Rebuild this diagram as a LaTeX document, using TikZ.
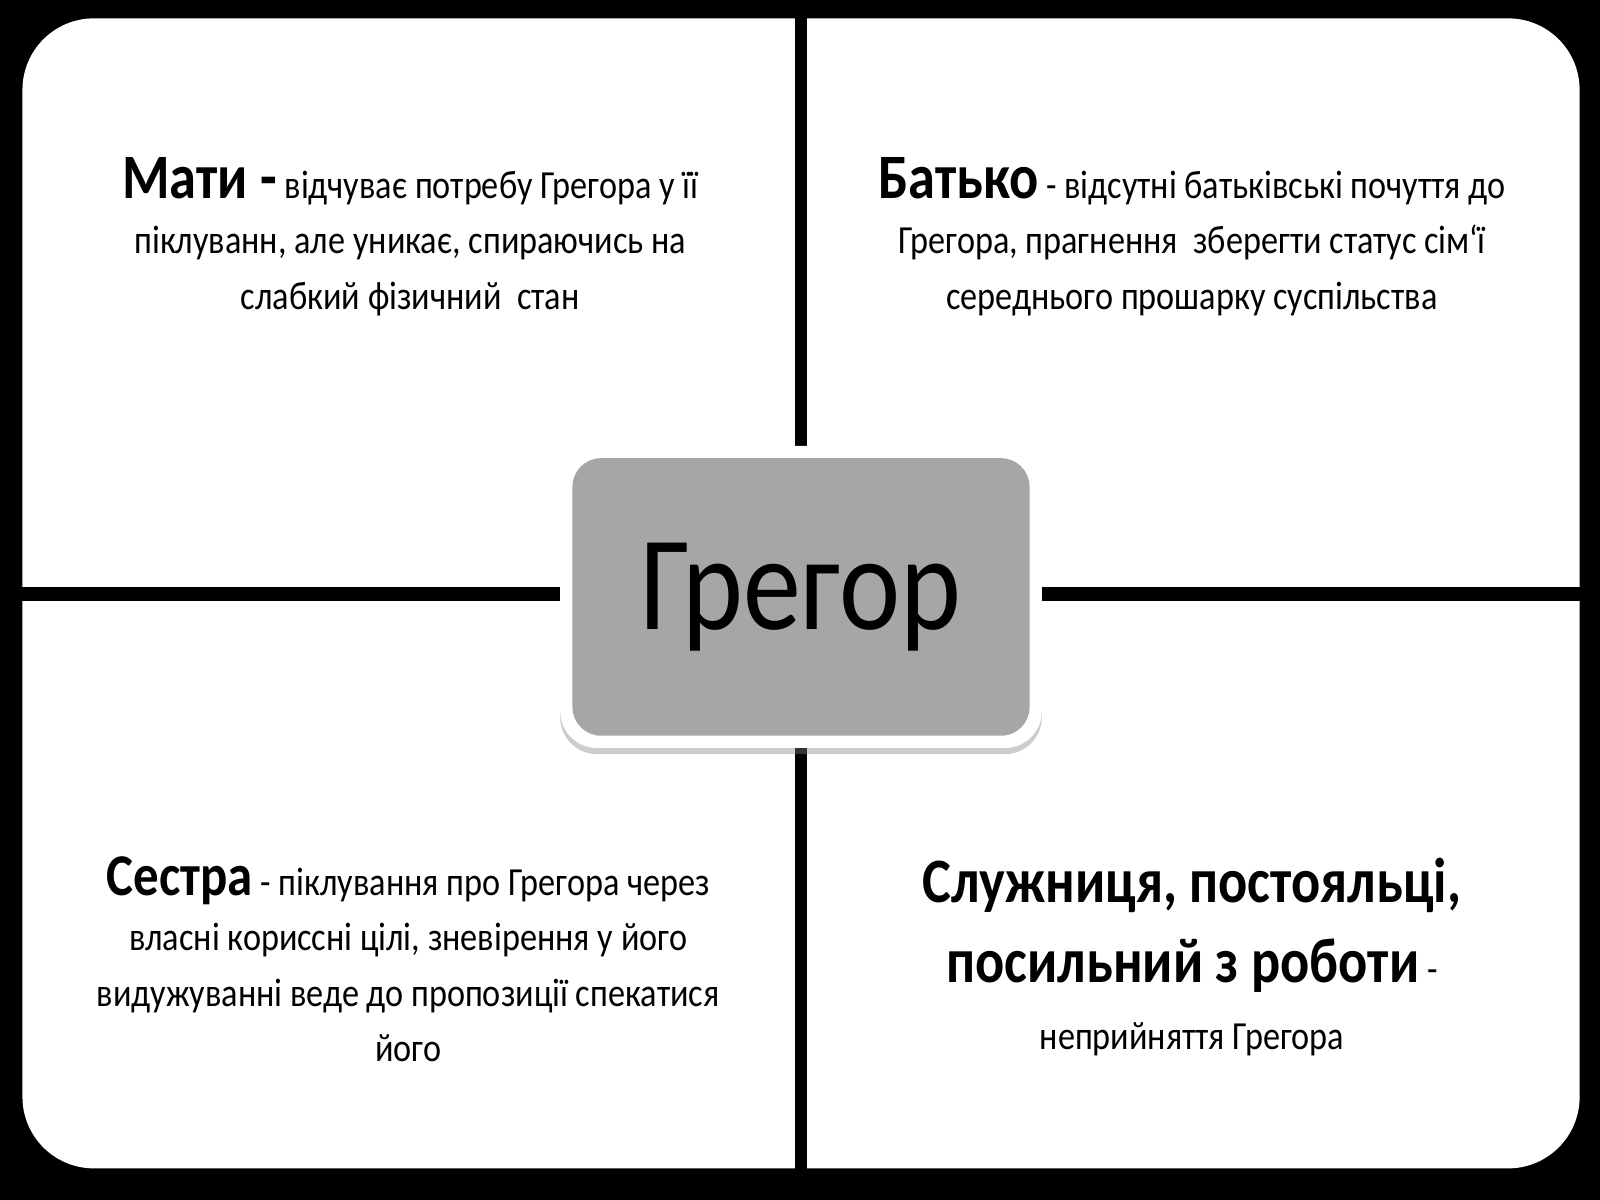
\documentclass[tikz,border=0pt]{standalone}
\usepackage{fontspec}
\setmainfont{Carlito}[FakeStretch=0.86]
\usetikzlibrary{shadows}
\begin{document}
\begin{tikzpicture}[x=0.5pt,y=-0.5pt,
  txt/.style={align=center,font=\fontsize{19.5}{27}\selectfont,inner sep=0pt}]
\useasboundingbox (0,0) rectangle (1568,1176);
\fill[black] (0,0) rectangle (1568,1176);
\fill[white,rounded corners=35pt] (22,18) rectangle (1548,1145);
\fill[black] (779,0) rectangle (791,1176);
\fill[black] (0,575) rectangle (1568,589);
\node[txt] (m) at (402,232) {{\fontsize{31}{27}\selectfont\bfseries Мати -} відчуває потребу Грегора у її\\піклуванн, але уникає, спираючись на\\слабкий фізичний\ \ стан};
\node[txt] (b) at (1168,232) {{\fontsize{31}{27}\selectfont\bfseries Батько} - відсутні батьківські почуття до\\Грегора, прагнення\ \ зберегти статус сім`ї\\середнього прошарку суспільства};
\node[txt] (s) at (400,940) {{\fontsize{29}{27}\selectfont\bfseries Сестра} - піклування про Грегора через\\власні кориссні цілі, зневірення у його\\видужуванні веде до пропозиції спекатися\\його};
\node[txt,font=\fontsize{19.5}{39}\selectfont] (z) at (1168,938) {{\fontsize{31}{39}\selectfont\bfseries Служниця, постояльці,}\\{\fontsize{31}{39}\selectfont\bfseries посильний з роботи} -\\[-6pt]неприйняття Грегора};
\node[fill=white,rounded corners=18pt,minimum width=236pt,minimum height=148pt,drop shadow={opacity=0.4,shadow xshift=0pt,shadow yshift=-3pt}] (gb) at (785,585) {};
\node[fill=black!35,rounded corners=14pt,minimum width=224pt,minimum height=136pt,inner sep=0pt,font=\fontsize{66}{74}\selectfont] (g) at (785,585) {Грегор};
\end{tikzpicture}
\end{document}
